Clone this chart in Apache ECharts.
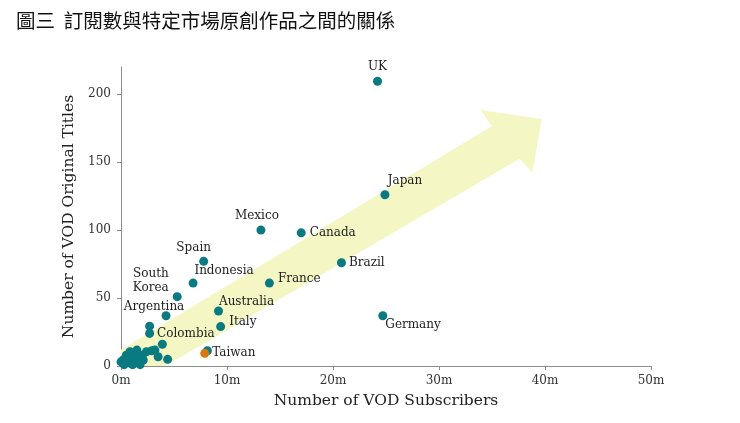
<!DOCTYPE html>
<html>
<head>
<meta charset="utf-8">
<script src="https://cdn.jsdelivr.net/npm/echarts@6/dist/echarts.min.js"></script>
<style>
  html, body { margin: 0; padding: 0; background: #fff; }
  #chart { width: 740px; height: 423px; }
</style>
</head>
<body>
<div id="chart"></div>
<script>
// labelled markets: subscribers (m) and original titles
var names = ['UK', 'Japan', 'Mexico', 'Canada', 'Brazil', 'France', 'Spain', 'Indonesia',
  'South\nKorea', 'Argentina', 'Australia', 'Italy', 'Colombia', 'Germany'];
var subs = [24.2, 24.9, 13.2, 17.0, 20.8, 14.0, 7.8, 6.8, 5.3, 4.25, 9.2, 9.4, 2.7, 24.7];
var titles = [209.5, 126, 100, 98, 76, 61, 77, 61, 51, 37, 40.5, 29, 24, 37];

// unlabelled markets
var otherSubs = [2.7, 8.15, 3.9, 4.4, 3.5, 2.9, 2.4, 3.2, 2.0, 1.5, 1.3, 0.85, 0.5, 0.2, 0.0,
  0.85, 1.6, 2.1, 1.1, 0.6, 1.0, 1.8, 0.3, 1.4, 0.9];
var otherTitles = [29.3, 11.2, 16, 4.9, 6.8, 11.2, 10.5, 11.7, 8, 11.7, 8, 10.5, 8, 4.4, 3,
  3, 3, 4.4, 1, 5, 6, 1, 1, 6, 2];

// Taiwan highlighted
var taiwanSubs = [7.9];
var taiwanTitles = [9.3];

// trend arrow outline in data units
var arrowX = [0, 0, 35.0, 33.9, 39.7, 38.8, 37.6, 4.2];
var arrowY = [0, 12, 176.6, 188.3, 181.7, 142.1, 152.4, 0];

var xTicks = [0, 10, 20, 30, 40, 50];
var yTicks = [0, 50, 100, 150, 200];

var serif = 'DejaVu Serif';
var teal = '#097b80';

var labelPlace = {
  'UK': { position: 'top', distance: 4 },
  'Japan': { position: 'top', distance: 3, offset: [20, 0] },
  'Mexico': { position: 'top', distance: 4, offset: [-4, 0] },
  'Canada': { position: 'right', distance: 4 },
  'Brazil': { position: 'right', distance: 3 },
  'France': { position: 'right', distance: 4, offset: [0, -4] },
  'Spain': { position: 'top', distance: 3, offset: [-10, 0] },
  'Indonesia': { position: 'top', distance: 2, offset: [31, 0] },
  'South\nKorea': { position: 'left', distance: 4, offset: [0, -16], lineHeight: 14 },
  'Argentina': { position: 'top', distance: 1, offset: [-12, 3] },
  'Australia': { position: 'top', distance: 1, offset: [28, 2] },
  'Italy': { position: 'right', distance: 4, offset: [0, -5] },
  'Colombia': { position: 'right', distance: 3 },
  'Germany': { position: 'right', distance: 0, offset: [-2, 9] }
};

var labelled = names.map(function (n, i) {
  var p = labelPlace[n];
  return {
    name: n,
    value: [subs[i], titles[i]],
    label: Object.assign({ show: true, formatter: '{b}' }, p)
  };
});
var others = otherSubs.map(function (x, i) { return [x, otherTitles[i]]; });
var taiwan = [{
  name: 'Taiwan',
  value: [taiwanSubs[0], taiwanTitles[0]],
  label: { show: true, position: 'right', distance: 3, formatter: '{b}' }
}];
var arrowPts = arrowX.map(function (x, i) { return [x, arrowY[i]]; });

var chart = echarts.init(document.getElementById('chart'));
chart.setOption({
  animation: false,
  title: {
    text: '圖三  訂閱數與特定市場原創作品之間的關係',
    left: 11,
    top: 6,
    textStyle: { fontFamily: 'Noto Sans CJK TC', fontSize: 19.5, fontWeight: 'normal', color: '#111' }
  },
  grid: { left: 121, right: 89, top: 67, bottom: 57 },
  xAxis: {
    type: 'value',
    min: 0, max: 50, interval: 10,
    name: 'Number of VOD Subscribers',
    nameLocation: 'middle',
    nameGap: 27,
    nameTextStyle: { fontFamily: serif, fontSize: 15.5, color: '#222' },
    axisLine: { show: true, lineStyle: { color: '#8c8c8c' } },
    axisTick: { show: true, length: 4, lineStyle: { color: '#8c8c8c' }, customValues: xTicks },
    axisLabel: {
      fontFamily: serif, fontSize: 12, color: '#333', margin: 9,
      customValues: xTicks,
      formatter: function (v) { return v + 'm'; }
    },
    splitLine: { show: false }
  },
  yAxis: {
    type: 'value',
    min: 0, max: 220, interval: 50,
    name: 'Number of VOD Original Titles',
    nameLocation: 'middle',
    nameGap: 39,
    nameRotate: 90,
    nameTextStyle: { fontFamily: serif, fontSize: 15.5, color: '#222' },
    axisLine: { show: true, lineStyle: { color: '#8c8c8c' } },
    axisTick: { show: true, length: 4, lineStyle: { color: '#8c8c8c' }, customValues: yTicks },
    axisLabel: { fontFamily: serif, fontSize: 12, color: '#333', margin: 10, customValues: yTicks },
    splitLine: { show: false }
  },
  series: [
    {
      type: 'custom',
      silent: true,
      z: 1,
      data: [0],
      renderItem: function (params, api) {
        return {
          type: 'polygon',
          shape: { points: arrowPts.map(function (p) { return api.coord(p); }) },
          style: { fill: '#f4f7c4' }
        };
      }
    },
    {
      type: 'scatter',
      z: 3,
      symbolSize: 9,
      itemStyle: { color: teal, opacity: 1 },
      data: others
    },
    {
      type: 'scatter',
      z: 4,
      symbolSize: 9,
      itemStyle: { color: teal, opacity: 1 },
      label: { fontFamily: serif, fontSize: 12, color: '#222' },
      data: labelled
    },
    {
      type: 'scatter',
      z: 5,
      symbolSize: 9,
      itemStyle: { color: '#d9760f', opacity: 1 },
      label: { fontFamily: serif, fontSize: 12, color: '#222' },
      data: taiwan
    }
  ]
});
</script>
</body>
</html>
